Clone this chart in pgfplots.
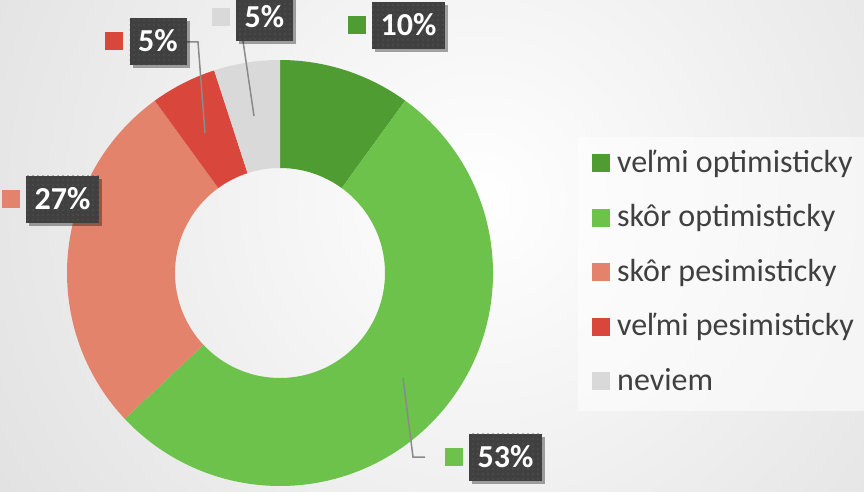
\documentclass[border=0pt]{standalone}
\usepackage{pgfplots}
\pgfplotsset{compat=1.18}
\usepackage{pgfplotstable}
\usepackage{fontspec}
\setmainfont{Carlito}
\usetikzlibrary{calc,shadows,patterns.meta}

\definecolor{slice0}{HTML}{4F9C33}
\definecolor{slice1}{HTML}{6CC24A}
\definecolor{slice2}{HTML}{E4836B}
\definecolor{slice3}{HTML}{D9473C}
\definecolor{slice4}{HTML}{D9D9D9}
\definecolor{lblbg}{HTML}{404040}
\definecolor{lbldot}{HTML}{555555}
\definecolor{legtext}{HTML}{404040}
\definecolor{leader}{HTML}{8A8A8A}
\definecolor{bgouter}{HTML}{C8C8C8}

\tikzdeclarepattern{
  name=lbldots,
  tile size={(5.3pt,5.3pt)},
  bottom left={(0pt,0pt)},
  top right={(5.3pt,5.3pt)},
  code={\fill (1.6pt,1.6pt) rectangle (3.0pt,3.0pt);}
}

\pgfplotstableread{
key value
vo 10
so 53
sp 27
vp 5
nv 5
}\piedata

\tikzset{
  lbl/.style={fill=lblbg, text=white, font=\bfseries\fontsize{32}{38}\selectfont,
    inner xsep=0pt, inner ysep=0pt, text height=21pt, text depth=0pt, minimum height=47pt,
    drop shadow={shadow xshift=3pt, shadow yshift=-3pt, opacity=0.35, fill=black},
    postaction={pattern=lbldots, pattern color=lbldot}},
  sq/.style={label={[inner sep=0pt, label distance=6pt]left:{\textcolor{#1}{\rule{18pt}{18pt}}}}},
}

\begin{document}
\begin{tikzpicture}
\def\cum{0}
\pgfplotsforeachungrouped \i in {0,...,4}{%
  \pgfplotstablegetelem{\i}{value}\of\piedata
  \pgfmathsetmacro\sa{90-3.6*\cum}%
  \pgfmathsetmacro\cum{\cum+\pgfplotsretval}%
  \pgfmathsetmacro\ea{90-3.6*\cum}%
  \expandafter\xdef\csname pieS\i\endcsname{\sa}%
  \expandafter\xdef\csname pieE\i\endcsname{\ea}%
}
\begin{scope}
\clip (0,0) rectangle (864pt,491pt);
\shade[inner color=white, outer color=bgouter] (480pt,291pt) circle (1060pt);
\end{scope}
\begin{axis}[
  x=1pt, y=1pt, xmin=0, xmax=864, ymin=0, ymax=491,
  hide axis, clip=false, anchor=south west, at={(0pt,0pt)},
  legend style={at={(0.669,0.7209)}, anchor=north west, fill=white, fill opacity=0.55, text opacity=1, draw=none,
    inner xsep=14pt, inner ysep=14pt, font=\fontsize{32}{38}\selectfont, text=legtext,
    row sep=26.5pt, nodes={inner sep=0pt, text height=21pt, text depth=7pt},
    /tikz/every odd column/.append style={column sep=7pt}},
  legend cell align=left,
  legend image code/.code={\fill[#1] (0pt,-7pt) rectangle (18pt,11pt);},
]
\pgfplotsinvokeforeach{0,...,4}{
  \fill[slice#1] ($(axis cs:280,218)+(\csname pieS#1\endcsname:213pt)$)
    arc[start angle=\csname pieS#1\endcsname, end angle=\csname pieE#1\endcsname, radius=213pt]
    -- ($(axis cs:280,218)+(\csname pieE#1\endcsname:105pt)$)
    arc[start angle=\csname pieE#1\endcsname, end angle=\csname pieS#1\endcsname, radius=105pt]
    -- cycle;
}
\addlegendimage{fill=slice0, draw=none, fill opacity=1}\addlegendentry{veľmi optimisticky}
\addlegendimage{fill=slice1, draw=none, fill opacity=1}\addlegendentry{skôr optimisticky}
\addlegendimage{fill=slice2, draw=none, fill opacity=1}\addlegendentry{skôr pesimisticky}
\addlegendimage{fill=slice3, draw=none, fill opacity=1}\addlegendentry{veľmi pesimisticky}
\addlegendimage{fill=slice4, draw=none, fill opacity=1}\addlegendentry{neviem}

\draw[leader, line width=1.5pt] (axis cs:205,358) -- (axis cs:198,449) -- (axis cs:187,449);
\draw[leader, line width=1.5pt] (axis cs:254,375) -- (axis cs:243,450);
\draw[leader, line width=1.5pt] (axis cs:403,113) -- (axis cs:413,34) -- (axis cs:425,34);

\node[lbl, sq=slice0, minimum width=73pt] at (axis cs:408.5,465.5) {10\%};
\node[lbl, sq=slice4, minimum width=57pt] at (axis cs:264.5,473.5) {5\%};
\node[lbl, sq=slice3, minimum width=57pt] at (axis cs:158,449.5) {5\%};
\node[lbl, sq=slice2, minimum width=73pt] at (axis cs:62.5,292) {27\%};
\node[lbl, sq=slice1, minimum width=73pt] at (axis cs:505.5,34) {53\%};
\end{axis}
\pgfresetboundingbox
\path[use as bounding box] (0,0) rectangle (864pt,491pt);
\end{tikzpicture}
\end{document}
